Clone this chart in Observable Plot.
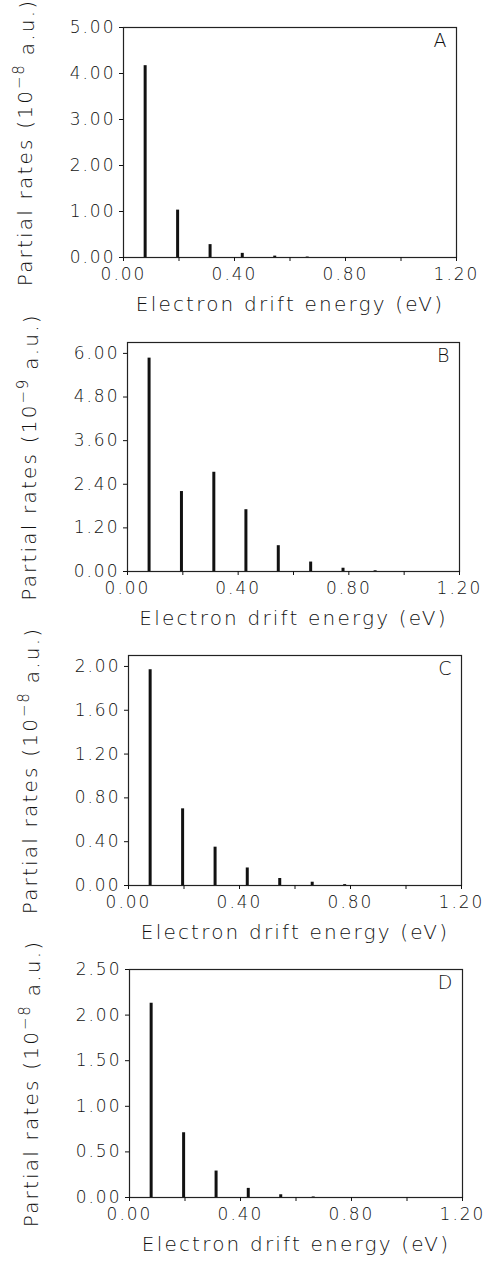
<!DOCTYPE html>
<html>
<head>
<meta charset="utf-8">
<script src="https://cdn.jsdelivr.net/npm/d3@7"></script>
<script src="https://cdn.jsdelivr.net/npm/@observablehq/plot@0.6"></script>
<style>
  body { margin: 0; background: #fff; }
  #chart div { line-height: 0; }
  svg [font-size="17"] { letter-spacing: 2px; }
  svg [font-size="20"] { letter-spacing: 2.2px; }
  svg [font-size="19"] { letter-spacing: 1px; }
</style>
</head>
<body>
<div id="chart"></div>
<script>
// Electron drift energies of the partial-rate lines (eV)
const energies = [0.078, 0.195, 0.312, 0.428, 0.545, 0.662, 0.779, 0.895];

// Partial rates per panel
const ratesA = [4.17, 1.03, 0.28, 0.09, 0.03, 0.01, 0, 0];      // 10^-8 a.u.
const ratesB = [5.87, 2.20, 2.73, 1.70, 0.71, 0.26, 0.09, 0.02]; // 10^-9 a.u.
const ratesC = [1.97, 0.70, 0.35, 0.16, 0.064, 0.03, 0.008, 0];  // 10^-8 a.u.
const ratesD = [2.13, 0.71, 0.29, 0.10, 0.03, 0.006, 0, 0];      // 10^-8 a.u.

const panelLetters = ["A", "B", "C", "D"];
const yLabelBase = "Partial rates (10";
const yLabelExp = ["\u22128", "\u22129", "\u22128", "\u22128"];
const yLabelUnit = " a.u.)";
const xLabel = "Electron drift energy (eV)";

const xTicks = [0, 0.2, 0.4, 0.6, 0.8, 1.0, 1.2];
const xTickLabels = ["0.00", "", "0.40", "", "0.80", "", "1.20"];

const yTicksA = [0, 1, 2, 3, 4, 5];
const yTicksB = [0, 1.2, 2.4, 3.6, 4.8, 6.0];
const yTicksC = [0, 0.4, 0.8, 1.2, 1.6, 2.0];
const yTicksD = [0, 0.5, 1.0, 1.5, 2.0, 2.5];

const yMax = [5, 6.3, 2.1, 2.5];

const panels = [
  {rates: ratesA, ticks: yTicksA, height: 315, mt: 27, mb: 58, ml: 123, mr: 29},
  {rates: ratesB, ticks: yTicksB, height: 315, mt: 27, mb: 59, ml: 127, mr: 26},
  {rates: ratesC, ticks: yTicksC, height: 315, mt: 25, mb: 60, ml: 128, mr: 24},
  {rates: ratesD, ticks: yTicksD, height: 317, mt: 24, mb: 65, ml: 129, mr: 23}
];

const font = "'DejaVu Sans ExtraLight', 'DejaVu Sans', sans-serif";
const container = document.getElementById("chart");

panels.forEach((p, i) => {
  const data = energies.map((e, k) => ({energy: e, rate: p.rates[k]}));
  const fullLabel = yLabelBase + yLabelExp[i] + yLabelUnit;
  const plot = Plot.plot({
    width: 485,
    height: p.height,
    marginTop: p.mt,
    marginBottom: p.mb,
    marginLeft: p.ml,
    marginRight: p.mr,
    style: {fontFamily: font, fontSize: "17px", fontWeight: 300, color: "#111", background: "#fff", overflow: "visible"},
    x: {domain: [0, 1.2]},
    y: {domain: [0, yMax[i]]},
    marks: [
      Plot.frame({stroke: "#222", strokeWidth: 1.2}),
      Plot.axisX({
        ticks: xTicks,
        tickFormat: d => xTickLabels[xTicks.indexOf(d)],
        tickSize: 4,
        tickPadding: 6,
        fontSize: 17,
        label: null
      }),
      Plot.axisY({
        ticks: p.ticks,
        tickFormat: d => d.toFixed(2),
        tickSize: 4,
        tickPadding: 4,
        fontSize: 17,
        label: null
      }),
      Plot.ruleX(data, {x: "energy", y1: 0, y2: "rate", stroke: "#111", strokeWidth: 3}),
      Plot.text([panelLetters[i]], {
        text: d => d, frameAnchor: "top-right", dx: -9, dy: 6,
        lineAnchor: "top", textAnchor: "end", fontSize: 19, fill: "#111"
      }),
      Plot.text([xLabel], {
        text: d => d, frameAnchor: "bottom", dy: 47,
        lineAnchor: "middle", textAnchor: "middle", fontSize: 20, fill: "#111"
      }),
      Plot.text([fullLabel], {
        text: d => d, frameAnchor: "left", dx: -98, rotate: -90,
        lineAnchor: "middle", textAnchor: "middle", fontSize: 20, fill: "#111"
      })
    ]
  });
  // Render the exponent as a raised superscript
  d3.select(plot).selectAll("text").each(function() {
    if (this.textContent === fullLabel) {
      const t = d3.select(this);
      t.text(null);
      t.append("tspan").text(yLabelBase);
      t.append("tspan").attr("dy", "-0.5em").attr("font-size", "15").style("letter-spacing", "1.5px").text(yLabelExp[i]);
      t.append("tspan").attr("dy", "0.5em").text(yLabelUnit);
    }
  });
  const wrap = document.createElement("div");
  wrap.appendChild(plot);
  container.appendChild(wrap);
});
</script>
</body>
</html>
